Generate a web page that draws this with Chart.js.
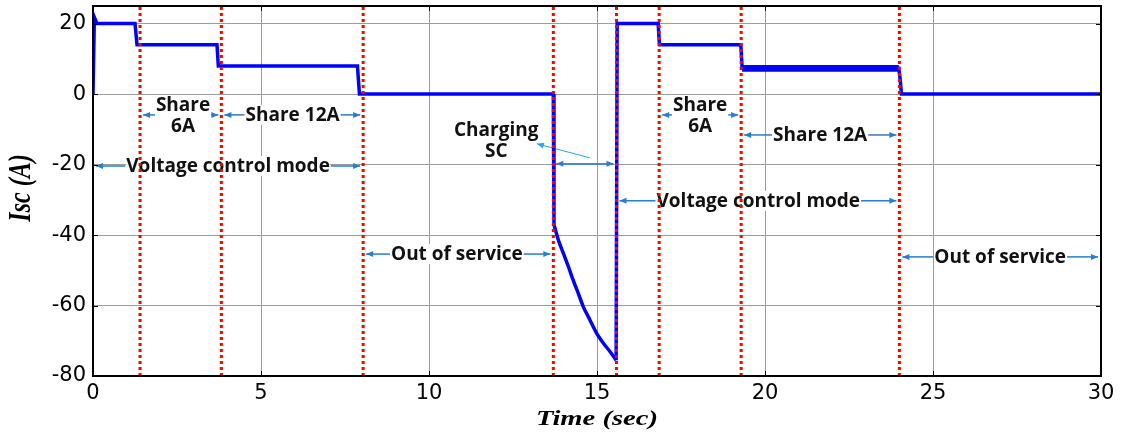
<!DOCTYPE html>
<html lang="en">
<head>
<meta charset="UTF-8">
<title>Isc vs time</title>
<style>
  body { margin: 0; background: #fff; }
  canvas { display: block; }
</style>
</head>
<body>
<canvas id="iscChart" width="1128" height="432"></canvas>
<script src="https://cdn.jsdelivr.net/npm/chart.js@4.4.0/dist/chart.umd.min.js"></script>
<script>
  // supercapacitor current over the run
  const timeSec = [0, 0.04, 0.12, 1.25, 1.31, 3.69, 3.73, 7.87, 7.93, 13.70, 13.72, 13.85, 14.00, 14.15, 14.29, 14.44, 14.59, 14.79, 14.99, 15.19, 15.39, 15.57, 15.60, 16.82, 16.86, 19.28, 19.32, 23.98, 24.02, 24.06, 30];
  const iscAmp  = [0, 21.8, 20, 20, 14, 14, 8, 8, 0, 0, -37.1, -41.4, -45.2, -49.0, -52.8, -56.5, -60.3, -64.1, -67.9, -70.7, -73.1, -75.5, 20, 20, 14, 14, 7.3, 7.3, 4.5, 0, 0];

  // charging interval, drawn as a smooth curve
  const chargeStart = 13.72;
  const chargeEnd = 15.57;

  // ripple band while sharing 12A in the second cycle
  const rippleTime = [19.32, 23.98];
  const rippleHigh = [8.0, 8.0];
  const rippleLow  = [6.6, 6.6];

  // instants where the operating mode switches
  const switchTimes = [1.40, 3.82, 8.04, 13.70, 15.58, 16.85, 19.29, 24.0];

  const xTicks = [0, 5, 10, 15, 20, 25, 30];
  const yTicks = [-80, -60, -40, -20, 0, 20];

  // mode labels: arrow runs from..to at height y, text centred at time "at"
  const spans = [
    { from: 1.40,  to: 3.82,  y: -5.9,  at: 2.68,  lines: ['Share', '6A'], rows: [-3.1, -9.05] },
    { from: 3.82,  to: 8.04,  y: -5.9,  at: 5.94,  lines: ['Share 12A'], rows: [-5.9] },
    { from: 0,     to: 8.04,  y: -20.4, at: 4.02,  lines: ['Voltage control mode'], rows: [-20.4] },
    { from: 8.04,  to: 13.70, y: -45.4, at: 10.83, lines: ['Out of service'], rows: [-45.4] },
    { from: 13.70, to: 15.58, y: -19.8, lines: [] },
    { from: 15.58, to: 24.0,  y: -30.3, at: 19.8,  lines: ['Voltage control mode'], rows: [-30.3] },
    { from: 16.85, to: 19.29, y: -5.9,  at: 18.07, lines: ['Share', '6A'], rows: [-3.1, -9.05] },
    { from: 19.29, to: 24.0,  y: -11.6, at: 21.64, lines: ['Share 12A'], rows: [-11.6] },
    { from: 24.0,  to: 30,    y: -46.2, at: 27.0,  lines: ['Out of service'], rows: [-46.2] }
  ];
  const callout = { lines: ['Charging', 'SC'], at: 12.0, rows: [-10.2, -16.1], from: [14.79, -18.1], to: [13.21, -14.1] };

  const ARROW = '#2a7ccc';
  const NOTE_FONT = 'bold 19px "Open Sans"';

  function arrowHead(ctx, x0, y0, x1, y1, len, half) {
    const a = Math.atan2(y1 - y0, x1 - x0);
    ctx.beginPath();
    ctx.moveTo(x1, y1);
    ctx.lineTo(x1 - len * Math.cos(a) + half * Math.sin(a), y1 - len * Math.sin(a) - half * Math.cos(a));
    ctx.lineTo(x1 - len * Math.cos(a) - half * Math.sin(a), y1 - len * Math.sin(a) + half * Math.cos(a));
    ctx.closePath();
    ctx.fill();
  }

  function arrow(ctx, x0, y0, x1, y1, width) {
    ctx.beginPath();
    ctx.moveTo(x0, y0);
    ctx.lineTo(x1, y1);
    ctx.lineWidth = width;
    ctx.stroke();
    arrowHead(ctx, x0, y0, x1, y1, 7, 3);
  }

  const notesPlugin = {
    id: 'notes',
    beforeDatasetsDraw(chart) {
      const ctx = chart.ctx, xs = chart.scales.x, ys = chart.scales.y;
      ctx.save();
      ctx.font = NOTE_FONT;
      ctx.textAlign = 'center';
      ctx.textBaseline = 'middle';

      const writeLines = (lines, rows, cx) => {
        lines.forEach((t, i) => {
          const w = ctx.measureText(t).width;
          const cy = ys.getPixelForValue(rows[i]);
          ctx.fillStyle = '#fff';
          ctx.fillRect(cx - w / 2, cy - 10, w, 20);
          ctx.fillStyle = '#111';
          ctx.fillText(t, cx, cy + 1);
        });
      };

      spans.forEach(s => {
        const x0 = xs.getPixelForValue(s.from) + 3;
        const x1 = xs.getPixelForValue(s.to) - 3;
        const y = ys.getPixelForValue(s.y);
        ctx.strokeStyle = ARROW;
        ctx.fillStyle = ARROW;
        if (!s.lines.length) {
          arrow(ctx, (x0 + x1) / 2, y, x1, y, 1.5);
          arrow(ctx, (x0 + x1) / 2, y, x0, y, 1.5);
          return;
        }
        const cx = xs.getPixelForValue(s.at);
        const w = Math.max(...s.lines.map(t => ctx.measureText(t).width));
        arrow(ctx, cx - w / 2 - 1, y, x0, y, 1.5);
        arrow(ctx, cx + w / 2 + 1, y, x1, y, 1.5);
        writeLines(s.lines, s.rows, cx);
      });

      // pointer from the charging interval to its label
      ctx.strokeStyle = '#2fa4e7';
      ctx.fillStyle = '#2fa4e7';
      arrow(ctx, xs.getPixelForValue(callout.from[0]), ys.getPixelForValue(callout.from[1]),
        xs.getPixelForValue(callout.to[0]), ys.getPixelForValue(callout.to[1]), 1);
      writeLines(callout.lines, callout.rows, xs.getPixelForValue(callout.at));
      ctx.restore();
    }
  };

  const framePlugin = {
    id: 'frame',
    afterDraw(chart) {
      const ctx = chart.ctx, a = chart.chartArea, xs = chart.scales.x, ys = chart.scales.y;
      ctx.save();
      ctx.strokeStyle = '#000';
      // small inward ticks on all four sides
      ctx.lineWidth = 1;
      ctx.beginPath();
      xTicks.forEach(v => {
        const x = Math.round(xs.getPixelForValue(v)) + 0.5;
        ctx.moveTo(x, a.top); ctx.lineTo(x, a.top + 5);
        ctx.moveTo(x, a.bottom); ctx.lineTo(x, a.bottom - 5);
      });
      yTicks.forEach(v => {
        const y = Math.round(ys.getPixelForValue(v)) + 0.5;
        ctx.moveTo(a.left, y); ctx.lineTo(a.left + 5, y);
        ctx.moveTo(a.right, y); ctx.lineTo(a.right - 5, y);
      });
      ctx.stroke();
      ctx.lineWidth = 2;
      ctx.strokeRect(a.left, a.top, a.right - a.left, a.bottom - a.top);

      // axis titles
      ctx.fillStyle = '#000';
      ctx.textAlign = 'center';
      ctx.textBaseline = 'middle';
      ctx.font = 'bold italic 22px "Liberation Serif"';
      ctx.save();
      ctx.translate((a.left + a.right) / 2, 419);
      ctx.scale(1.3, 1);
      ctx.fillText('Time (sec)', 0, 0);
      ctx.restore();

      ctx.save();
      ctx.translate(22, (a.top + a.bottom) / 2 - 3);
      ctx.rotate(-Math.PI / 2);
      ctx.scale(1, 1.3);
      ctx.font = 'bold italic 24px "Liberation Serif"';
      ctx.fillText('Isc (A)', 0, 0);
      ctx.restore();
      ctx.restore();
    }
  };

  // straight steps everywhere except inside the charging curve
  const inCharge = t => t > chargeStart && t < chargeEnd;
  const stepPoints = timeSec.map((t, i) => ({ x: t, y: inCharge(t) ? null : iscAmp[i] }));
  const chargePoints = timeSec
    .map((t, i) => ({ x: t, y: iscAmp[i] }))
    .filter(p => p.x >= chargeStart && p.x <= chargeEnd);

  const datasets = [
    {
      label: 'Isc',
      data: stepPoints,
      borderColor: '#0000ff',
      borderWidth: 3.5,
      spanGaps: false,
      fill: false,
      order: 1
    },
    {
      label: 'Isc charging',
      data: chargePoints,
      borderColor: '#0000ff',
      borderWidth: 3.5,
      cubicInterpolationMode: 'monotone',
      fill: false,
      order: 1
    },
    {
      label: 'ripple high',
      data: rippleTime.map((t, i) => ({ x: t, y: rippleHigh[i] })),
      borderColor: '#0000ff',
      borderWidth: 2,
      fill: false,
      order: 1
    },
    {
      label: 'ripple low',
      data: rippleTime.map((t, i) => ({ x: t, y: rippleLow[i] })),
      borderColor: '#0000ff',
      backgroundColor: '#0000ff',
      borderWidth: 2,
      fill: '-1',
      order: 1
    }
  ];
  switchTimes.forEach(t => {
    datasets.push({
      label: 'switch ' + t,
      data: [{ x: t, y: -80 }, { x: t, y: 25 }],
      borderColor: '#ff0000',
      borderWidth: 3,
      borderDash: [3, 3],
      borderCapStyle: 'butt',
      fill: false,
      order: -1
    });
  });

  const tickFont = { family: '"DejaVu Sans"', size: 21 };

  new Chart(document.getElementById('iscChart'), {
    type: 'line',
    data: { datasets: datasets },
    options: {
      responsive: false,
      animation: false,
      layout: { padding: { top: 6, right: 27, left: 0, bottom: 0 } },
      elements: { point: { radius: 0 }, line: { tension: 0 } },
      plugins: { legend: { display: false }, tooltip: { enabled: false } },
      scales: {
        x: {
          type: 'linear',
          min: 0,
          max: 30,
          afterFit: s => { s.height = 56; s.paddingLeft = 0; s.paddingRight = 0; },
          afterBuildTicks: s => { s.ticks = xTicks.map(v => ({ value: v })); },
          grid: { color: '#9c9c9c', lineWidth: 1, drawTicks: false },
          border: { display: false },
          ticks: { padding: 5, color: '#000', font: tickFont, autoSkip: false, maxRotation: 0 }
        },
        y: {
          type: 'linear',
          min: -80,
          max: 25,
          afterFit: s => { s.width = 93; s.paddingTop = 0; s.paddingBottom = 0; },
          afterBuildTicks: s => { s.ticks = yTicks.map(v => ({ value: v })); },
          grid: { color: '#9c9c9c', lineWidth: 1, drawTicks: false },
          border: { display: false },
          ticks: { padding: 7, color: '#000', font: tickFont, autoSkip: false }
        }
      }
    },
    plugins: [notesPlugin, framePlugin]
  });
</script>
</body>
</html>
